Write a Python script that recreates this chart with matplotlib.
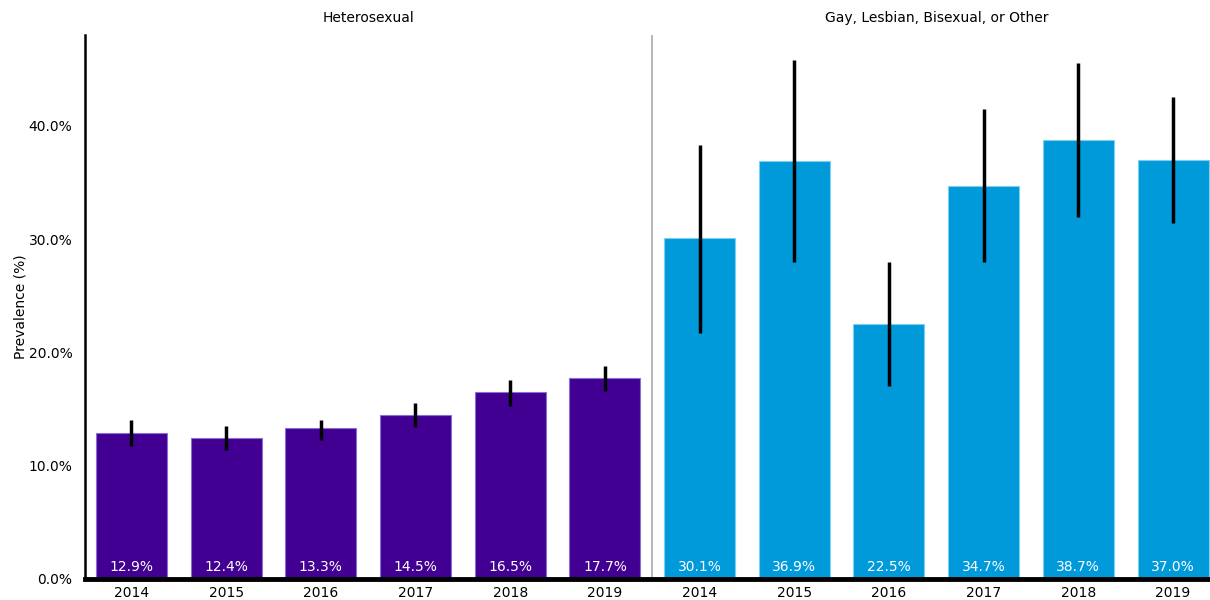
import numpy as np
import matplotlib as mpl
mpl.use('Agg')
import matplotlib.pyplot as plt

years = ['2014', '2015', '2016', '2017', '2018', '2019']
groups = ['Heterosexual', 'Gay, Lesbian, Bisexual, or Other']

het_vals = [12.9, 12.4, 13.3, 14.5, 16.5, 17.7]
het_low  = [11.7, 11.4, 12.3, 13.4, 15.3, 16.6]
het_high = [14.0, 13.5, 14.0, 15.5, 17.6, 18.8]

glb_vals = [30.1, 36.9, 22.5, 34.7, 38.7, 37.0]
glb_low  = [21.7, 28.0, 17.0, 28.0, 31.9, 31.4]
glb_high = [38.3, 45.8, 28.0, 41.5, 45.5, 42.5]

yticks = [0, 10, 20, 30, 40]

purple = '#420092'
blue = '#009ADB'
fontsize = 10

fig = plt.figure(figsize=(12.1, 6.0), dpi=100)
ax = fig.add_axes([85/1210, 1 - 579/600, (1210 - 85)/1210, (579 - 35)/600])

x_het = np.arange(len(years))
x_glb = np.arange(len(years)) + len(years)

for xs, vals, lo, hi, col, edge in [(x_het, het_vals, het_low, het_high, purple, '#8a6fd6'),
                                     (x_glb, glb_vals, glb_low, glb_high, blue, '#7fcdf0')]:
    vals = np.array(vals)
    err = [vals - np.array(lo), np.array(hi) - vals]
    ax.bar(xs, vals, width=0.75, color=col, edgecolor=edge, linewidth=0.8, zorder=2)
    ax.errorbar(xs, vals, yerr=err, fmt='none', ecolor='black', elinewidth=2.5, capsize=0, zorder=3)
    for x, v in zip(xs, vals):
        ax.text(x, 0.4, '%.1f%%' % v, color='white', ha='center', va='bottom', fontsize=fontsize, zorder=4)
    for x, y in zip(xs, years):
        ax.text(x, -0.6, y, ha='center', va='top', fontsize=fontsize, color='black')

# divider between groups
ax.axvline(5.5, color='#aaaaaa', linewidth=1.2, zorder=1)

ax.text(2.5, 49.5, groups[0], ha='center', va='center', fontsize=fontsize)
ax.text(8.5, 49.5, groups[1], ha='center', va='center', fontsize=fontsize)

ax.set_xlim(-0.49, 11.39)
ax.set_ylim(0, 48)
ax.set_xticks([])
ax.set_yticks(yticks)
ax.set_yticklabels(['%.1f%%' % t for t in yticks], fontsize=fontsize)
ax.tick_params(axis='y', length=0, pad=9)
ax.set_ylabel('Prevalence (%)', fontsize=fontsize, labelpad=1)

for s in ['top', 'right']:
    ax.spines[s].set_visible(False)
ax.spines['left'].set_linewidth(1.8)
ax.spines['bottom'].set_linewidth(3.5)
ax.spines['bottom'].set_zorder(5)

fig.savefig('out.png', dpi=100)
